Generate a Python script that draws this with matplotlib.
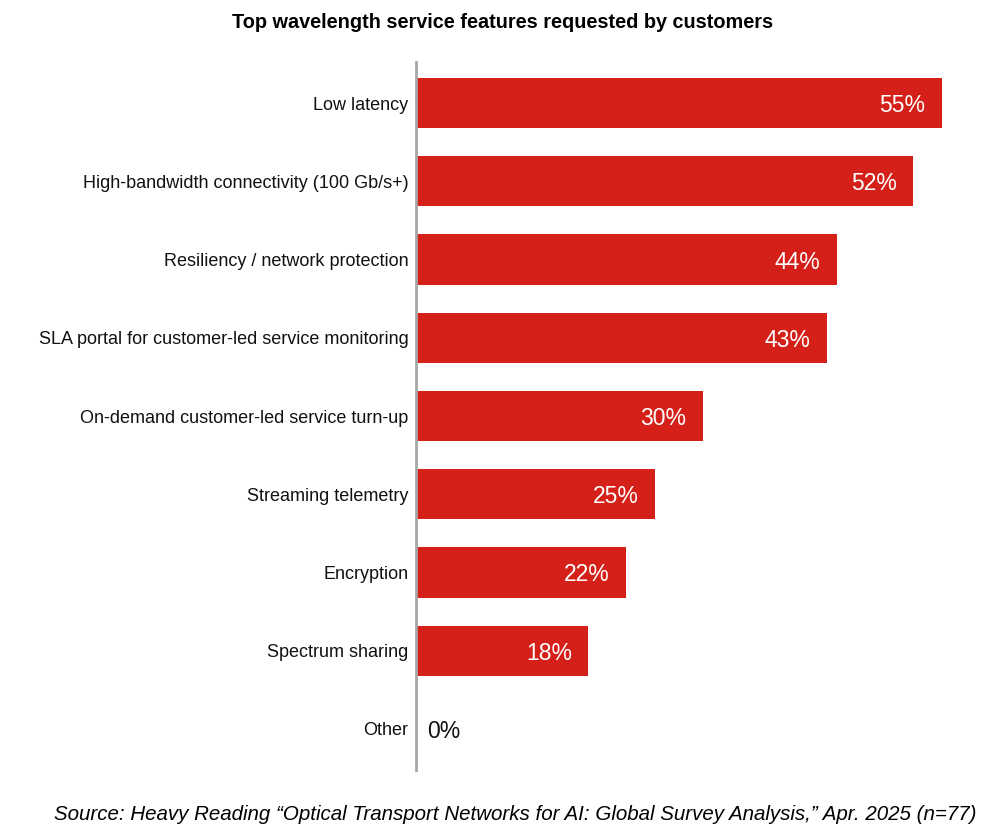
import matplotlib
matplotlib.use("Agg")
import matplotlib.pyplot as plt

# Survey data
features = [
    "Low latency",
    "High-bandwidth connectivity (100 Gb/s+)",
    "Resiliency / network protection",
    "SLA portal for customer-led service monitoring",
    "On-demand customer-led service turn-up",
    "Streaming telemetry",
    "Encryption",
    "Spectrum sharing",
    "Other",
]
shares = [55, 52, 44, 43, 30, 25, 22, 18, 0]

bar_color = "#d42018"
plt.rcParams["font.family"] = ["Liberation Sans", "DejaVu Sans"]

fig = plt.figure(figsize=(10.06, 8.35), dpi=100)
ax = fig.add_axes([416 / 1006, 1 - 770 / 835, 573.6 / 1006, 708 / 835])

ypos = list(range(len(features)))
ax.barh(ypos, shares, height=0.64, color=bar_color)
ax.set_xlim(0, 60)
ax.set_ylim(len(features) - 1 + 0.524, -0.524)

ax.set_yticks(ypos)
ax.set_yticklabels(features, fontsize=13, color="#111111")
ax.tick_params(axis="y", length=0, pad=5.5)
ax.set_xticks([])

for s in ["top", "right", "bottom"]:
    ax.spines[s].set_visible(False)
ax.spines["left"].set_color("#a6a6a6")
ax.spines["left"].set_linewidth(2)

# value labels
for y, v in zip(ypos, shares):
    if v > 5:
        ax.text(v - 1.7, y, f"{v}%", ha="right", va="center_baseline",
                color="white", fontsize=16.5)
    else:
        ax.text(v + 1.2, y, f"{v}%", ha="left", va="center_baseline",
                color="#111111", fontsize=16.5)

fig.text(503 / 1006, 1 - 23 / 835, "Top wavelength service features requested by customers",
         ha="center", va="center", fontsize=14.3, fontweight="bold")
fig.text(977 / 1006, 1 - 815 / 835,
         "Source: Heavy Reading \u201cOptical Transport Networks for AI: Global Survey Analysis,\u201d Apr. 2025 (n=77)",
         ha="right", va="center", fontsize=14.8, style="italic")

fig.savefig("out.png", dpi=100)
